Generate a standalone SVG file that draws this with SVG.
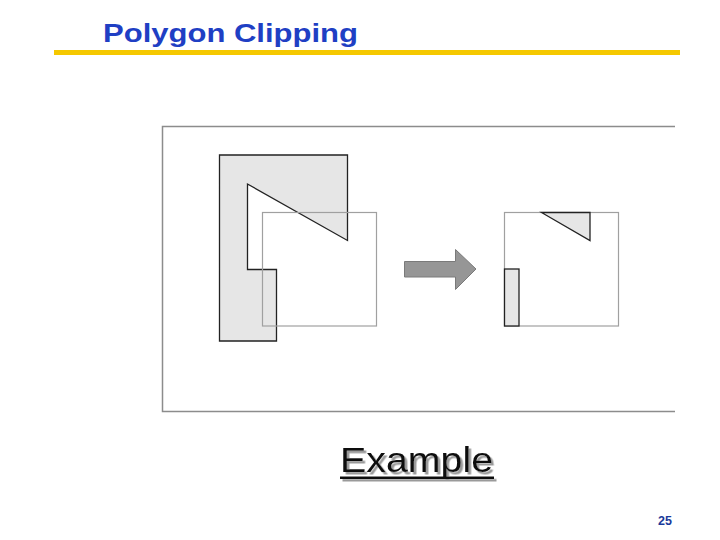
<svg xmlns="http://www.w3.org/2000/svg" width="720" height="540" viewBox="0 0 720 540">
<style>
.frame{fill:none;stroke:#8c8c8c;stroke-width:1.5}
.clip{fill:none;stroke:#a0a0a0;stroke-width:1.2}
.poly{fill:#e6e6e6;stroke:#222;stroke-width:1.3;stroke-linejoin:miter}
.title{font-family:"Liberation Sans",Arial,sans-serif;font-weight:bold;font-size:25.5px;fill:#1f3fc4}
.ex{font-family:"Liberation Sans",Arial,sans-serif;font-size:35px;fill:#111}
.pg{font-family:"Liberation Sans",Arial,sans-serif;font-weight:bold;font-size:12.5px;fill:#1a3a9a}
</style>
<defs>
<filter id="shadow" x="-10%" y="-20%" width="130%" height="150%">
<feDropShadow dx="2.5" dy="2.5" stdDeviation="0.4" flood-color="#9a9a9a" flood-opacity="1"/>
</filter>
</defs>
<rect width="720" height="540" fill="#fff"/>
<g id="title">
<text class="title" x="103" y="41.5" textLength="255" lengthAdjust="spacingAndGlyphs">Polygon Clipping</text>
<rect x="54" y="50" width="626" height="5" fill="#f5c800"/>
</g>
<g id="frame">
<polyline class="frame" points="675,126.5 162.5,126.5 162.5,411.5 675,411.5"/>
</g>
<g id="left-polygon">
<polygon class="poly" points="219.5,155 347.5,155 347.5,240.5 247.5,184 247.5,269.5 276.5,269.5 276.5,341 219.5,341"/>
</g>
<g id="left-clip">
<rect class="clip" x="262.5" y="212.5" width="114" height="113.5"/>
</g>
<g id="arrow">
<polygon points="404.5,261.5 455.5,261.5 455.5,249.5 476,269 455.5,289.5 455.5,277 404.5,277" fill="#969696" stroke="#7a7a7a" stroke-width="1"/>
</g>
<g id="right-clip">
<rect class="clip" x="504.5" y="212.5" width="114" height="113.5"/>
</g>
<g id="right-result">
<polygon class="poly" points="541.5,212.5 590,212.5 590,240.5"/>
<rect class="poly" x="504.5" y="269" width="14.5" height="57"/>
</g>
<g id="caption" filter="url(#shadow)">
<text class="ex" x="340" y="472" textLength="153" lengthAdjust="spacingAndGlyphs">Example</text>
<rect x="340" y="476.5" width="154" height="2.5" fill="#111"/>
</g>
<g id="page">
<text class="pg" x="658" y="525">25</text>
</g>
</svg>
